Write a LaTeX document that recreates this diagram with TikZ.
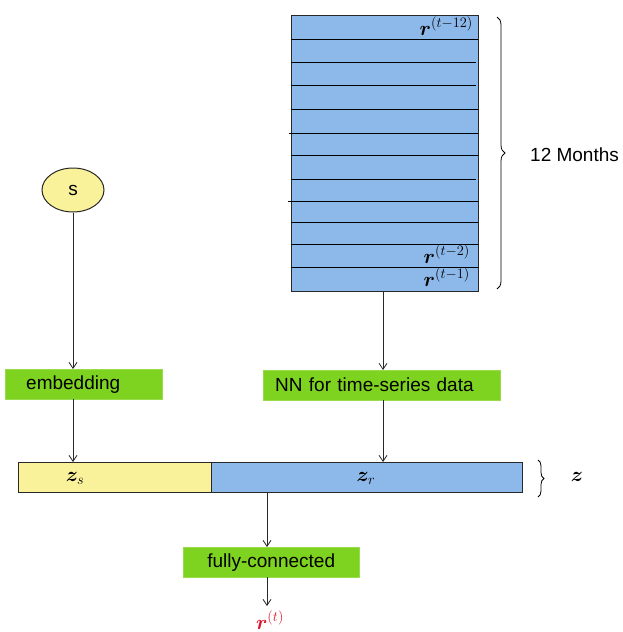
\RequirePackage{fix-cm}
\documentclass[tikz,border=0pt]{standalone}
\usepackage{amsmath,bm}
\usepackage{fontspec}
\setmainfont{Liberation Sans}
\usetikzlibrary{arrows.meta,decorations.pathreplacing,shapes.geometric}
\definecolor{boxblue}{RGB}{141,185,234}
\definecolor{boxyellow}{RGB}{250,242,155}
\definecolor{boxgreen}{RGB}{126,211,33}
\definecolor{outred}{RGB}{220,20,40}
\definecolor{edge}{RGB}{40,40,40}
\tikzset{
  conn/.style={draw=edge, line width=0.8pt, -{Straight Barb[length=6pt,width=8pt,line width=0.8pt]}},
  greenbox/.style={fill=boxgreen, draw=boxgreen!80!white, minimum height=30pt, inner ysep=0pt, font=\fontsize{19}{22}\selectfont},
  barpart/.style={draw=edge, line width=1pt, minimum height=30pt, inner sep=0pt},
  mathlab/.style={font=\fontsize{20.5}{24}\selectfont, inner sep=1pt},
  rowline/.style={draw=black, line width=0.8pt},
  bracestyle/.style={draw=black, line width=0.8pt, decorate, decoration={brace, amplitude=8pt}}
}
\begin{document}
\begin{tikzpicture}[x=1pt,y=-1pt]
\useasboundingbox (0,0) rectangle (623,632);
% history stack
\node[draw=edge, line width=1pt, fill=boxblue, minimum width=187pt, minimum height=276pt, inner sep=0pt, anchor=north west] (hist) at (291,15) {};
\foreach \yy/\xa/\xb in {39/291/478, 62/291/476, 85/291/476, 109/291/478, 133/289/478, 155/291/478, 179/291/476, 201/288/478, 222/291/478, 244/291/478, 267/291/478}
  \draw[rowline] (\xa,\yy) -- (\xb,\yy);
\node[mathlab, anchor=base east] (r12) at (474,35) {$\bm{r}^{(t-12)}$};
\node[mathlab, anchor=base east] (r2) at (471,263) {$\bm{r}^{(t-2)}$};
\node[mathlab, anchor=base east] (r1) at (471,286) {$\bm{r}^{(t-1)}$};
% brace 12 months
\coordinate (b1) at (497,17);
\coordinate (b2) at (497,289);
\draw[bracestyle] (b1) -- (b2);
\node[anchor=west, font=\fontsize{19}{22}\selectfont, inner sep=0pt] (months) at (530,155) {12 Months};
% s ellipse
\node[ellipse, draw=edge, line width=1pt, fill=boxyellow, minimum width=62pt, minimum height=44pt, inner sep=0pt, font=\fontsize{19}{22}\selectfont] (s) at (73,190) {s};
% green boxes
\node[greenbox, anchor=north west, minimum width=157pt, text width=115pt, inner xsep=21pt, align=left] (emb) at (5,369) {embedding};
\node[greenbox, anchor=north west, minimum width=237pt, text width=213pt, inner xsep=12pt, align=left] (nn) at (263,370) {NN for time-series data};
\node[greenbox, anchor=north west, minimum width=176pt, text width=150pt, inner xsep=13pt, align=center] (fc) at (183,547) {fully-connected};
% z bar
\node[barpart, fill=boxyellow, minimum width=193pt, anchor=north west] (zs) at (18,462) {};
\node[barpart, fill=boxblue, minimum width=311pt, anchor=north west] (zr) at (211,462) {};
\node[mathlab] (zslab) at (75,478) {$\bm{z}_s$};
\node[mathlab] (zrlab) at (366,478) {$\bm{z}_r$};
\coordinate (c1) at (538,460);
\coordinate (c2) at (538,497);
\draw[bracestyle, decoration={brace, amplitude=6pt}] (c1) -- (c2);
\node[mathlab] (zlab) at (577,477) {$\bm{z}$};
% output
\node[mathlab, text=outred] (rt) at (270,620) {$\bm{r}^{(t)}$};
% connectors
\draw[conn] (s.south) -- (s.south |- emb.north);
\draw[conn] (hist.south -| 383,0) -- (nn.north -| 383,0);
\draw[conn] (emb.south -| 73,0) -- (zs.north -| 73,0);
\draw[conn] (nn.south -| 383,0) -- (zr.north -| 383,0);
\draw[conn] (zr.south -| 267,0) -- (fc.north -| 267,0);
\draw[conn] (fc.south -| 267,0) -- (267,606);
\end{tikzpicture}
\end{document}
